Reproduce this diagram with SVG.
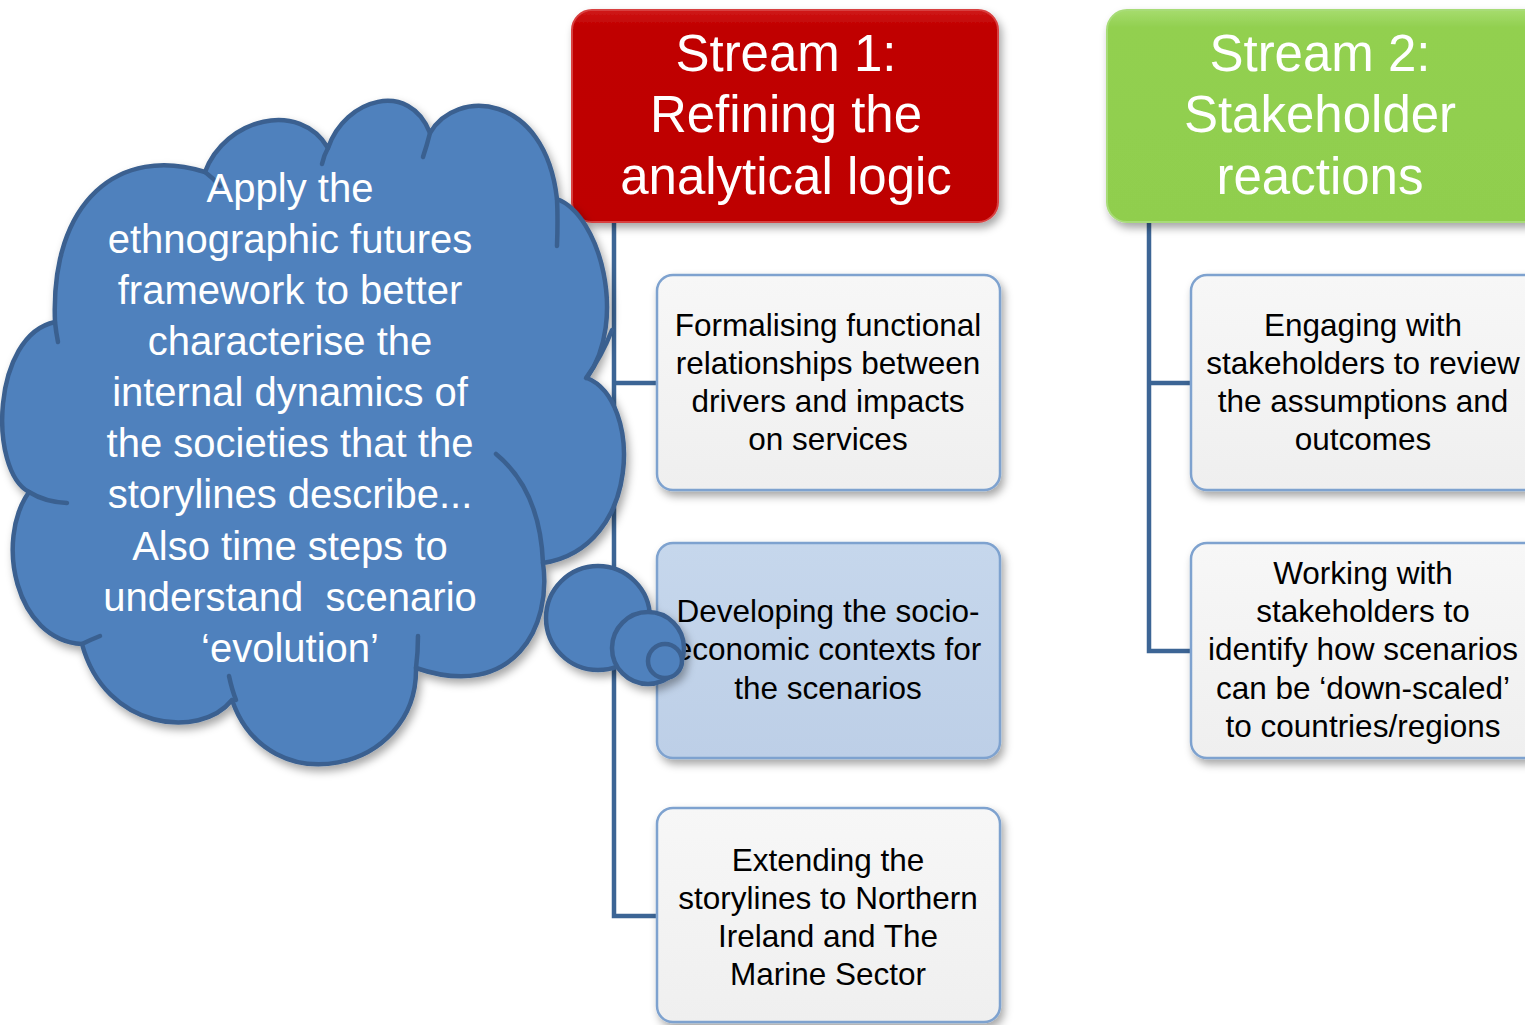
<svg xmlns="http://www.w3.org/2000/svg" width="1525" height="1025" viewBox="0 0 1525 1025">
<defs>
<style>
.conn{fill:none;stroke:#3C6595;stroke-width:4.5}
.hdr{font-family:"Liberation Sans",Arial,sans-serif;font-size:51px;fill:#FFFFFF;text-anchor:middle}
.box{stroke:#7EA2CF;stroke-width:2.5}
.btxt{font-family:"Liberation Sans",Arial,sans-serif;font-size:31.5px;fill:#000000;text-anchor:middle}
.ctxt{font-family:"Liberation Sans",Arial,sans-serif;font-size:40px;fill:#FFFFFF;text-anchor:middle}
.cloud{fill:#4F81BD;stroke:#3A6090;stroke-width:4.5;stroke-linejoin:round}
.crease{fill:none;stroke:#3A6090;stroke-width:4.5;stroke-linecap:round}
</style>
<linearGradient id="gRed" x1="0" y1="0" x2="0" y2="1">
<stop offset="0" stop-color="#D01818"/><stop offset="0.08" stop-color="#C00000"/><stop offset="1" stop-color="#BE0000"/>
</linearGradient>
<linearGradient id="gGreen" x1="0" y1="0" x2="0" y2="1">
<stop offset="0" stop-color="#A6DC6E"/><stop offset="0.08" stop-color="#92D050"/><stop offset="1" stop-color="#90CE4E"/>
</linearGradient>
<linearGradient id="gGrey" x1="0" y1="0" x2="0" y2="1">
<stop offset="0" stop-color="#F7F7F7"/><stop offset="1" stop-color="#EFEFEF"/>
</linearGradient>
<linearGradient id="gBlue" x1="0" y1="0" x2="0" y2="1">
<stop offset="0" stop-color="#C6D7EC"/><stop offset="1" stop-color="#BDCFE7"/>
</linearGradient>
<filter id="sh" x="-10%" y="-10%" width="130%" height="130%">
<feDropShadow dx="3" dy="5" stdDeviation="4" flood-color="#000" flood-opacity="0.35"/>
</filter>
</defs>
<rect width="1525" height="1025" fill="#FFFFFF"/>

<g id="connectors">
<path class="conn" d="M614 222 V916 H658 M614 383 H658 M614 651 H658"/>
<path class="conn" d="M1149 222 V651 H1192 M1149 383 H1192"/>
</g>

<g id="stream1">
<rect x="572" y="10" width="426" height="212" rx="20" fill="url(#gRed)" stroke="#D84040" stroke-width="2" filter="url(#sh)"/>
<text class="hdr" x="786" y="71">Stream 1:</text>
<text class="hdr" x="786" y="132">Refining the</text>
<text class="hdr" x="786" y="194">analytical logic</text>
</g>

<g id="stream2">
<rect x="1107" y="10" width="440" height="212" rx="20" fill="url(#gGreen)" stroke="#A8DC78" stroke-width="2" filter="url(#sh)"/>
<text class="hdr" x="1320" y="71">Stream 2:</text>
<text class="hdr" x="1320" y="132">Stakeholder</text>
<text class="hdr" x="1320" y="194">reactions</text>
</g>

<g id="box-formalising">
<rect class="box" x="657" y="275" width="343" height="215" rx="16" fill="url(#gGrey)" filter="url(#sh)"/>
<text class="btxt" x="828" y="336">Formalising functional</text>
<text class="btxt" x="828" y="374">relationships between</text>
<text class="btxt" x="828" y="412">drivers and impacts</text>
<text class="btxt" x="828" y="450">on services</text>
</g>

<g id="box-developing">
<rect class="box" x="657" y="543" width="343" height="215" rx="16" fill="url(#gBlue)" filter="url(#sh)"/>
<text class="btxt" x="828" y="622">Developing the socio-</text>
<text class="btxt" x="828" y="660">economic contexts for</text>
<text class="btxt" x="828" y="699">the scenarios</text>
</g>

<g id="box-extending">
<rect class="box" x="657" y="808" width="343" height="214" rx="16" fill="url(#gGrey)" filter="url(#sh)"/>
<text class="btxt" x="828" y="871">Extending the</text>
<text class="btxt" x="828" y="909">storylines to Northern</text>
<text class="btxt" x="828" y="947">Ireland and The</text>
<text class="btxt" x="828" y="985">Marine Sector</text>
</g>

<g id="box-engaging">
<rect class="box" x="1191" y="275" width="350" height="215" rx="16" fill="url(#gGrey)" filter="url(#sh)"/>
<text class="btxt" x="1363" y="336">Engaging with</text>
<text class="btxt" x="1363" y="374">stakeholders to review</text>
<text class="btxt" x="1363" y="412">the assumptions and</text>
<text class="btxt" x="1363" y="450">outcomes</text>
</g>

<g id="box-working">
<rect class="box" x="1191" y="543" width="350" height="215" rx="16" fill="url(#gGrey)" filter="url(#sh)"/>
<text class="btxt" x="1363" y="584">Working with</text>
<text class="btxt" x="1363" y="622">stakeholders to</text>
<text class="btxt" x="1363" y="660">identify how scenarios</text>
<text class="btxt" x="1363" y="699">can be ‘down-scaled’</text>
<text class="btxt" x="1363" y="737">to countries/regions</text>
</g>

<g id="cloud">
<g filter="url(#sh)">
<path class="cloud" d="M55 322 C50 200 120 145 205 172 C225 118 300 100 328 148 C345 98 410 80 430 133 C455 88 545 92 557 199 C600 215 628 320 587 378 C642 400 642 548 543 563 C552 625 515 702 416 668 C418 772 268 805 232 700 C200 740 105 730 82 644 C15 640 -5 540 29 492 C-12 470 -8 335 55 322 Z"/>
<circle class="cloud" cx="598" cy="618" r="52"/>
<circle class="cloud" cx="648" cy="648" r="36"/>
<circle class="cloud" cx="665" cy="661" r="17"/>
</g>
<path class="crease" d="M55 322 Q56 332 58 342"/>
<path class="crease" d="M205 172 Q213 178 220 186"/>
<path class="crease" d="M328 148 Q324 155 322 164"/>
<path class="crease" d="M430 133 Q427 145 423 157"/>
<path class="crease" d="M557 199 Q558 220 557 246"/>
<path class="crease" d="M612 330 Q602 356 586 378"/>
<path class="crease" d="M496 454 Q540 490 543 563"/>
<path class="crease" d="M418 636 Q418 652 416 668"/>
<path class="crease" d="M229 676 Q232 690 236 700"/>
<path class="crease" d="M100 636 Q90 640 82 644"/>
<path class="crease" d="M67 503 Q45 502 29 492"/>
<text class="ctxt" x="290" y="202">Apply the</text>
<text class="ctxt" x="290" y="253">ethnographic futures</text>
<text class="ctxt" x="290" y="304">framework to better</text>
<text class="ctxt" x="290" y="355">characterise the</text>
<text class="ctxt" x="290" y="406">internal dynamics of</text>
<text class="ctxt" x="290" y="457">the societies that the</text>
<text class="ctxt" x="290" y="508">storylines describe...</text>
<text class="ctxt" x="290" y="560">Also time steps to</text>
<text class="ctxt" x="290" y="611" xml:space="preserve">understand  scenario</text>
<text class="ctxt" x="290" y="662">‘evolution’</text>
</g>
</svg>
